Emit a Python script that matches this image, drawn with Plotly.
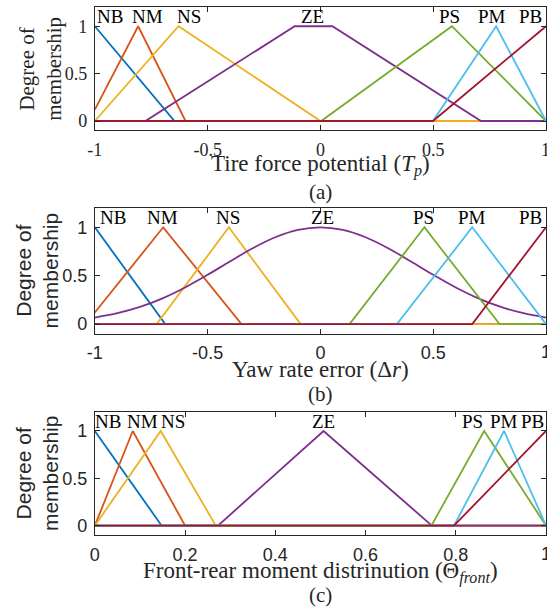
import plotly.graph_objects as go

W, H = 547, 614
COLORS = ['#0072BD', '#D95319', '#EDB120', '#7E2F8E', '#77AC30', '#4DBEEE', '#A2142F']
LABELS = ['NB', 'NM', 'NS', 'ZE', 'PS', 'PM', 'PB']

# ---------- (a) Tire force potential ----------
tp_nb_x = [-1, -0.647, 1];                        tp_nb_y = [1, 0, 0]
tp_nm_x = [-1, -0.808, -0.598, 1];                tp_nm_y = [0.12, 1, 0, 0]
tp_ns_x = [-1, -0.629, 0, 1];                     tp_ns_y = [0, 1, 0, 0]
tp_ze_x = [-1, -0.776, -0.114, 0.053, 0.712, 1];  tp_ze_y = [0, 0, 1, 1, 0, 0]
tp_ps_x = [-1, 0.003, 0.583, 1];                  tp_ps_y = [0, 0, 1, 0]
tp_pm_x = [-1, 0.499, 0.779, 1];                  tp_pm_y = [0, 0, 1, 0]
tp_pb_x = [-1, 0.499, 1];                         tp_pb_y = [0, 0, 1]
tp_label_x = [-0.935, -0.767, -0.581, -0.034, 0.571, 0.761, 0.932]
tp_label_y = [1.105] * 7
tp_ticks = [-1, -0.5, 0, 0.5, 1]

# ---------- (b) Yaw rate error ----------
yr_nb_x = [-1, -0.688, 1];                        yr_nb_y = [1, 0, 0]
yr_nm_x = [-1, -0.697, -0.35, 1];                 yr_nm_y = [0.12, 1, 0, 0]
yr_ns_x = [-1, -0.726, -0.406, -0.088, 1];        yr_ns_y = [0, 0, 1, 0, 0]
yr_ze_x = [-1, -0.9, -0.8, -0.7, -0.6, -0.5, -0.4, -0.3, -0.2, -0.1, 0,
           0.1, 0.2, 0.3, 0.4, 0.5, 0.6, 0.7, 0.8, 0.9, 1]
yr_ze_y = [0.067, 0.112, 0.177, 0.266, 0.378, 0.509, 0.649, 0.784, 0.897, 0.973, 1,
           0.973, 0.897, 0.784, 0.649, 0.509, 0.378, 0.266, 0.177, 0.112, 0.067]
yr_ps_x = [-1, 0.129, 0.461, 0.794, 1];           yr_ps_y = [0, 0, 1, 0, 0]
yr_pm_x = [-1, 0.339, 0.673, 1];                  yr_pm_y = [0, 0, 1, 0]
yr_pb_x = [-1, 0.673, 1];                         yr_pb_y = [0, 0, 1]
yr_label_x = [-0.921, -0.699, -0.409, 0.009, 0.458, 0.671, 0.932]
yr_label_y = [1.105] * 7
yr_ticks = [-1, -0.5, 0, 0.5, 1]

# ---------- (c) Front-rear moment distribution ----------
fr_nb_x = [0, 0.148, 1];                          fr_nb_y = [1, 0, 0]
fr_nm_x = [0, 0.084, 0.2, 1];                     fr_nm_y = [0, 1, 0, 0]
fr_ns_x = [0, 0.146, 0.268, 1];                   fr_ns_y = [0, 1, 0, 0]
fr_ze_x = [0, 0.273, 0.507, 0.747, 1];            fr_ze_y = [0, 0, 1, 0, 0]
fr_ps_x = [0, 0.746, 0.863, 1];                   fr_ps_y = [0, 0, 1, 0]
fr_pm_x = [0, 0.796, 0.907, 1];                   fr_pm_y = [0, 0, 1, 0]
fr_pb_x = [0, 0.796, 1];                          fr_pb_y = [0, 0, 1]
fr_label_x = [0.030, 0.106, 0.173, 0.506, 0.836, 0.908, 0.970]
fr_label_y = [1.095] * 7
fr_ticks = [0, 0.2, 0.4, 0.6, 0.8, 1]

y_ticks = [0, 0.5, 1]
y_tick_text = ['0', '0.5', '1']

SERIF = "Liberation Serif, 'Times New Roman', Times, serif"
SANS = "Liberation Sans, Arial, Helvetica, sans-serif"

panels = [
    dict(curves=[(tp_nb_x, tp_nb_y), (tp_nm_x, tp_nm_y), (tp_ns_x, tp_ns_y), (tp_ze_x, tp_ze_y),
                 (tp_ps_x, tp_ps_y), (tp_pm_x, tp_pm_y), (tp_pb_x, tp_pb_y)],
         lx=tp_label_x, ly=tp_label_y, xticks=tp_ticks, xrange=[-1, 1],
         top=7.3, bottom=130.7, tickfont=SERIF, ytitlefont=SERIF,
         ytitle_x=33.5, xtitle='Tire force potential (<i>T</i><sub><i>p</i></sub>)',
         tick_y=150, xtitle_y=166, caption='(a)', caption_y=192),
    dict(curves=[(yr_nb_x, yr_nb_y), (yr_nm_x, yr_nm_y), (yr_ns_x, yr_ns_y), (yr_ze_x, yr_ze_y),
                 (yr_ps_x, yr_ps_y), (yr_pm_x, yr_pm_y), (yr_pb_x, yr_pb_y)],
         lx=yr_label_x, ly=yr_label_y, xticks=yr_ticks, xrange=[-1, 1],
         top=208.3, bottom=334.3, tickfont=SANS, ytitlefont=SANS,
         ytitle_x=29, xtitle='Yaw rate error (Δ<i>r</i>)',
         tick_y=353, xtitle_y=370, caption='(b)', caption_y=395),
    dict(curves=[(fr_nb_x, fr_nb_y), (fr_nm_x, fr_nm_y), (fr_ns_x, fr_ns_y), (fr_ze_x, fr_ze_y),
                 (fr_ps_x, fr_ps_y), (fr_pm_x, fr_pm_y), (fr_pb_x, fr_pb_y)],
         lx=fr_label_x, ly=fr_label_y, xticks=fr_ticks, xrange=[0, 1],
         top=412.7, bottom=536.0, tickfont=SANS, ytitlefont=SANS,
         ytitle_x=29, xtitle='Front-rear moment distrinution (Θ<sub><i>front</i></sub>)',
         tick_y=555, xtitle_y=573, caption='(c)', caption_y=596),
]

LEFT_PX = 88.3
AX_COLOR = '#262626'

fig = go.Figure()
annotations = []
layout_axes = {}

for i, p in enumerate(panels):
    n = i + 1
    xa = 'x' if n == 1 else f'x{n}'
    ya = 'y' if n == 1 else f'y{n}'
    for k, (cx, cy) in enumerate(p['curves']):
        fig.add_trace(go.Scatter(
            x=cx, y=cy, mode='lines', xaxis=xa, yaxis=ya,
            line=dict(color=COLORS[k], width=1.8,
                      shape='spline' if len(cx) > 10 else 'linear'),
            showlegend=False, hoverinfo='skip'))
    for k in range(7):
        annotations.append(dict(
            x=p['lx'][k], y=p['ly'][k], xref=xa, yref=ya, text=LABELS[k], showarrow=False,
            xanchor='center', yanchor='middle',
            font=dict(family=SERIF, size=19, color='black')))
    ydom = [1 - p['bottom'] / H, 1 - p['top'] / H]
    tf = dict(family=p['tickfont'], size=18, color=AX_COLOR)
    # all ticks but the last one (at the clipped right edge) are drawn by the axis
    inner_ticks = p['xticks'][:-1]
    layout_axes['xaxis' if n == 1 else f'xaxis{n}'] = dict(
        domain=[LEFT_PX / W, 1], range=p['xrange'], anchor=ya,
        tickvals=inner_ticks, ticktext=[f'{v:g}' for v in inner_ticks],
        ticks='inside', ticklen=5, tickcolor=AX_COLOR, tickwidth=1,
        ticklabelstandoff=3,
        showline=True, linecolor=AX_COLOR, linewidth=1, mirror='ticks',
        showgrid=False, zeroline=False, tickfont=tf, fixedrange=True)
    # last tick label, half cut by the page edge as in the reference
    last = p['xticks'][-1]
    annotations.append(dict(
        x=last, y=1 - p['tick_y'] / H, xref=xa, yref='paper', text=f'{last:g}',
        showarrow=False, xanchor='center', yanchor='middle', font=tf))
    layout_axes['yaxis' if n == 1 else f'yaxis{n}'] = dict(
        domain=ydom, range=[-0.1, 1.2], anchor=xa,
        tickvals=y_ticks, ticktext=y_tick_text,
        ticks='inside', ticklen=5, tickcolor=AX_COLOR, tickwidth=1,
        ticklabelstandoff=3,
        showline=True, linecolor=AX_COLOR, linewidth=1, mirror='ticks',
        showgrid=False, zeroline=False, tickfont=tf, fixedrange=True)
    # y-axis title
    annotations.append(dict(
        x=p['ytitle_x'] / W, y=(ydom[0] + ydom[1]) / 2, xref='paper', yref='paper',
        text='Degree of<br>membership', textangle=-90, showarrow=False,
        xanchor='center', yanchor='middle',
        font=dict(family=p['ytitlefont'], size=21, color=AX_COLOR)))
    # x-axis title
    annotations.append(dict(
        x=317.5 / W, y=1 - p['xtitle_y'] / H, xref='paper', yref='paper',
        text=p['xtitle'], showarrow=False, xanchor='center', yanchor='middle',
        font=dict(family=SERIF, size=23, color=AX_COLOR)))
    # caption
    annotations.append(dict(
        x=317.5 / W, y=1 - p['caption_y'] / H, xref='paper', yref='paper',
        text=p['caption'], showarrow=False, xanchor='center', yanchor='middle',
        font=dict(family=SERIF, size=21, color=AX_COLOR)))

fig.update_layout(
    width=W, height=H, margin=dict(l=0, r=0, t=0, b=0),
    paper_bgcolor='white', plot_bgcolor='white',
    annotations=annotations, **layout_axes)

fig.write_html('out.html')
